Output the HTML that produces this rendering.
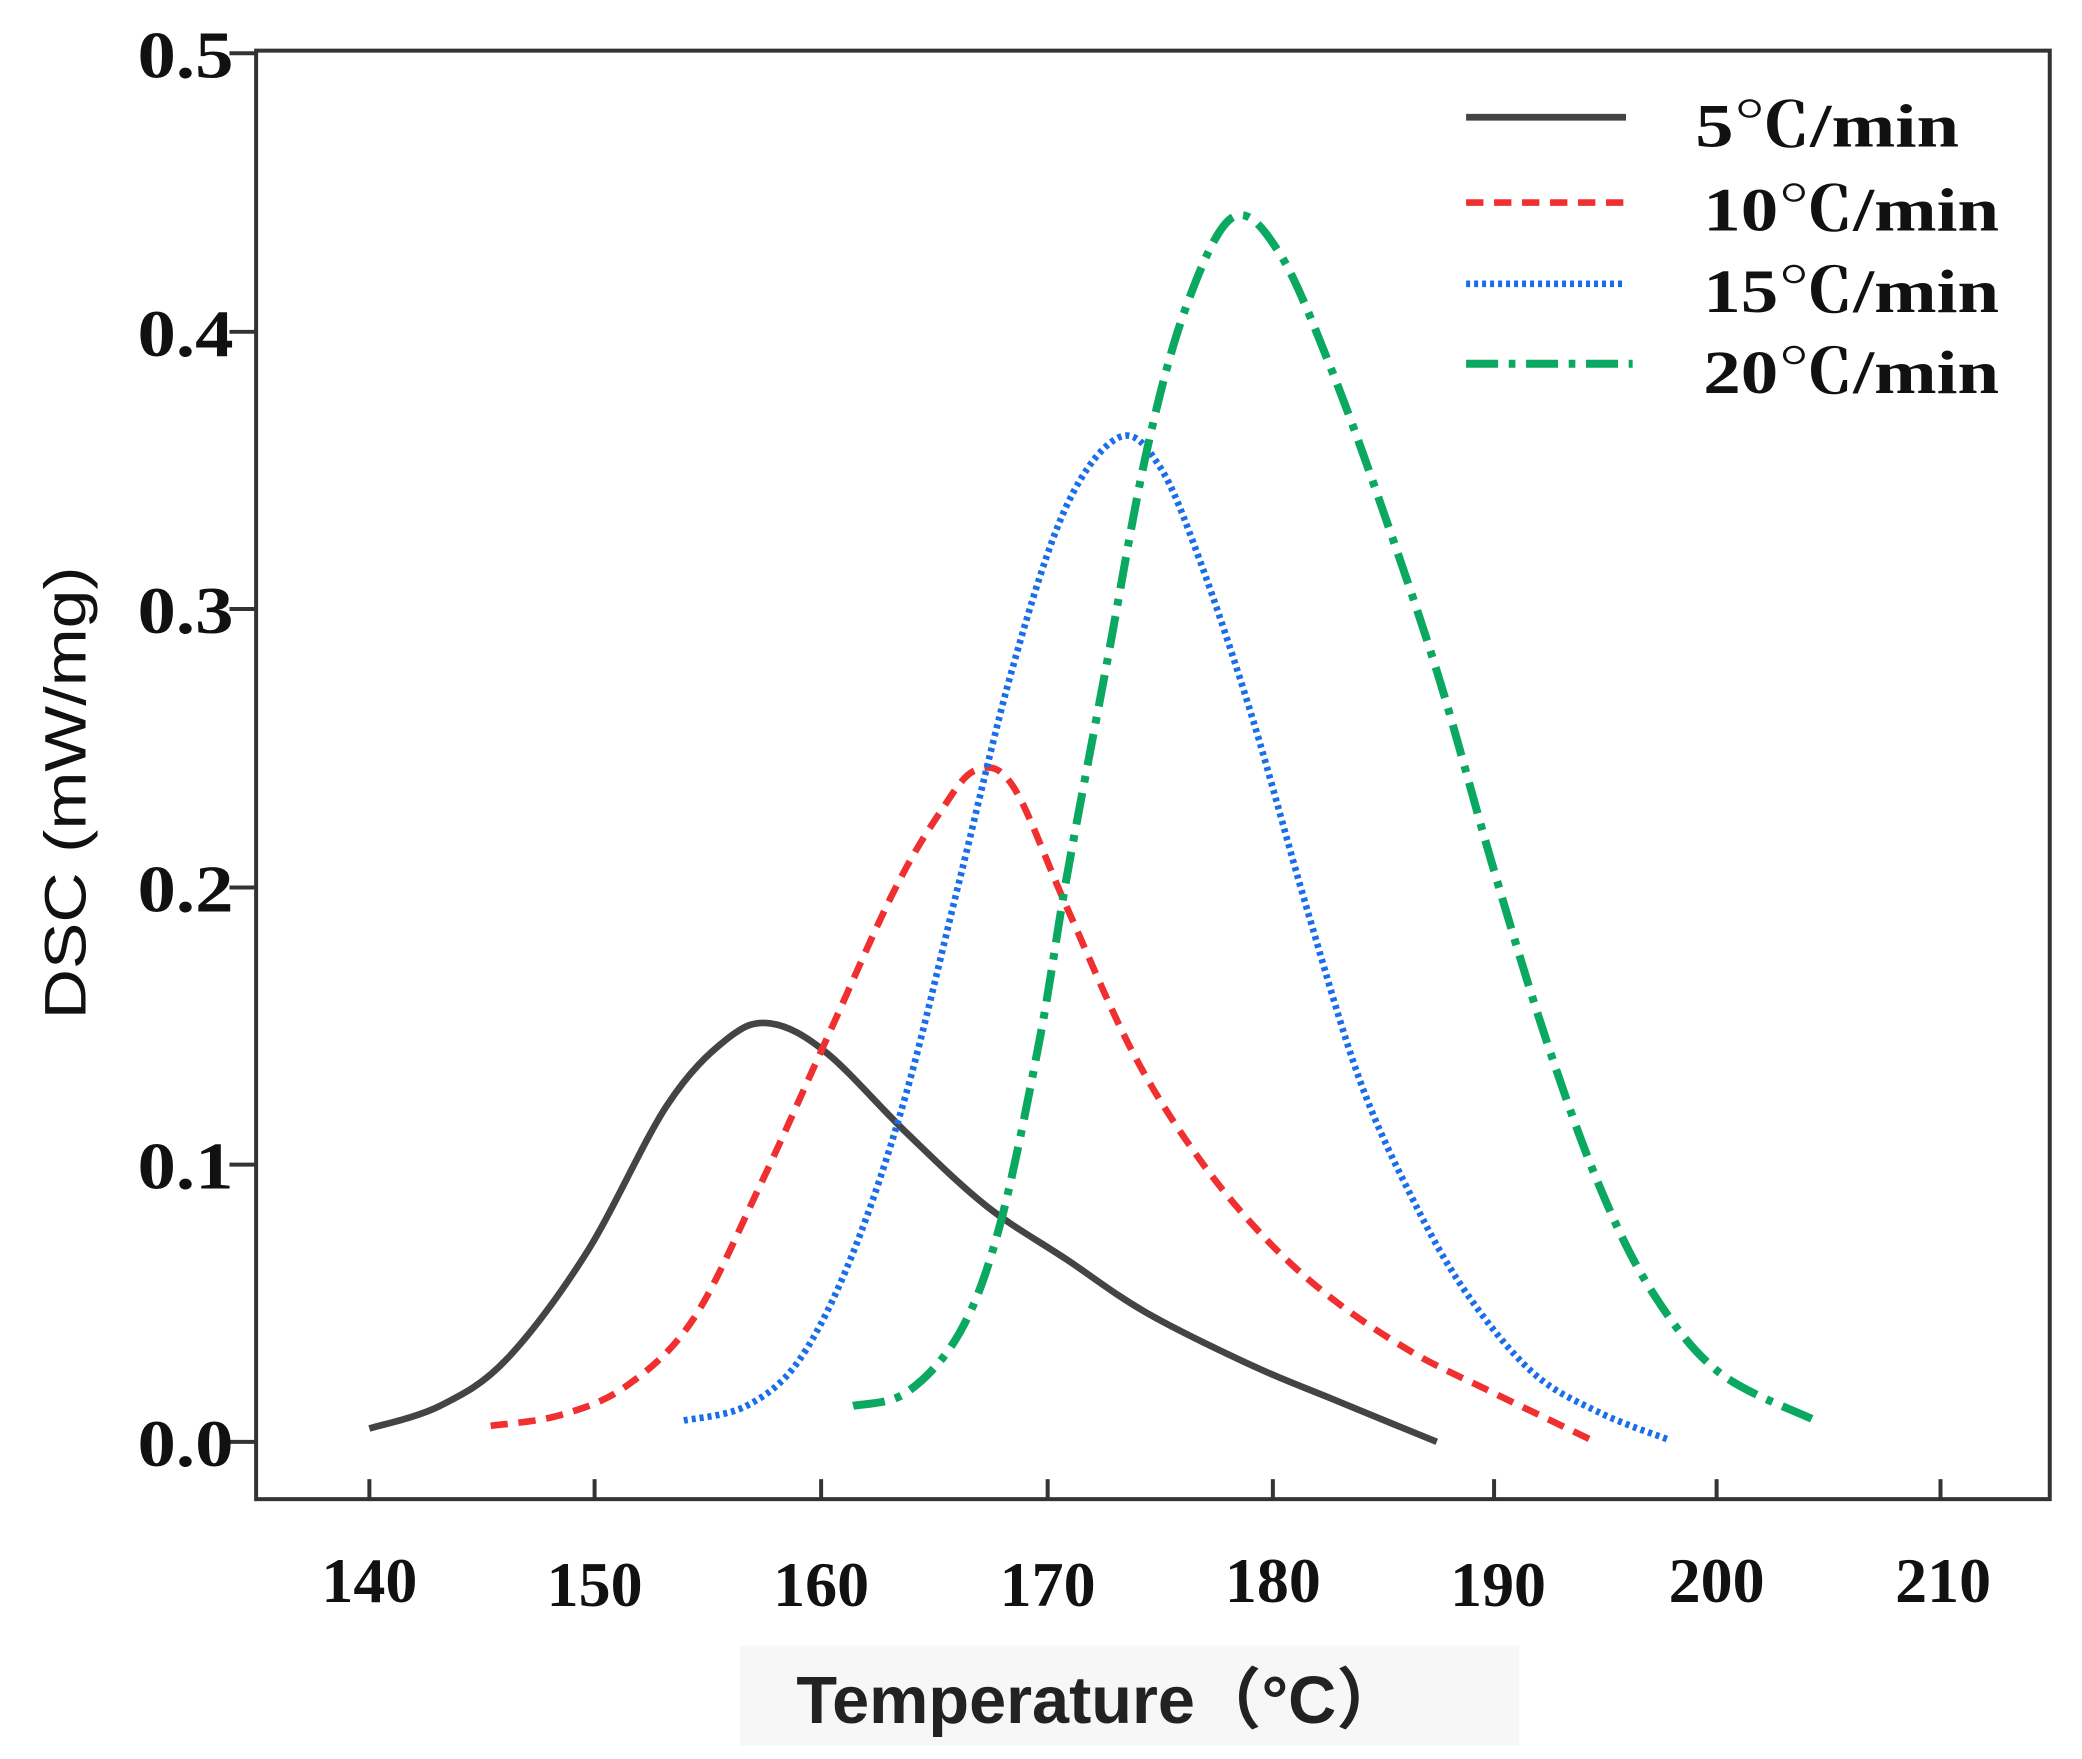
<!DOCTYPE html>
<html><head><meta charset="utf-8"><style>html,body{margin:0;padding:0;background:#fff}svg{display:block}</style></head><body>
<svg id="s" width="2082" height="1759" viewBox="0 0 1562 1320" xmlns="http://www.w3.org/2000/svg">
<rect width="1562" height="1320" fill="#fff"/>
<rect x="192" y="38" width="1346" height="1087" fill="none" stroke="#333" stroke-width="3"/>
<g stroke="#333" stroke-width="3">
<line x1="172" y1="40" x2="192" y2="40"/><line x1="172" y1="249" x2="192" y2="249"/><line x1="172" y1="457" x2="192" y2="457"/><line x1="172" y1="666" x2="192" y2="666"/><line x1="172" y1="874" x2="192" y2="874"/><line x1="172" y1="1082" x2="192" y2="1082"/>
<line x1="277" y1="1125" x2="277" y2="1110"/><line x1="446" y1="1125" x2="446" y2="1110"/><line x1="616" y1="1125" x2="616" y2="1110"/><line x1="786" y1="1125" x2="786" y2="1110"/><line x1="955" y1="1125" x2="955" y2="1110"/><line x1="1121" y1="1125" x2="1121" y2="1110"/><line x1="1288" y1="1125" x2="1288" y2="1110"/><line x1="1456" y1="1125" x2="1456" y2="1110"/>
</g>
<g font-family="Liberation Serif, serif" font-weight="bold" font-size="50" fill="#111" text-anchor="end">
<text x="175" y="58" textLength="72" lengthAdjust="spacingAndGlyphs">0.5</text><text x="175" y="267" textLength="72" lengthAdjust="spacingAndGlyphs">0.4</text><text x="175" y="475" textLength="72" lengthAdjust="spacingAndGlyphs">0.3</text><text x="175" y="684" textLength="72" lengthAdjust="spacingAndGlyphs">0.2</text><text x="175" y="892" textLength="72" lengthAdjust="spacingAndGlyphs">0.1</text><text x="175" y="1100" textLength="72" lengthAdjust="spacingAndGlyphs">0.0</text>
</g>
<g font-family="Liberation Serif, serif" font-weight="bold" font-size="48" fill="#111" text-anchor="middle">
<text x="277" y="1202">140</text><text x="446" y="1205">150</text><text x="616" y="1205">160</text><text x="786" y="1205">170</text><text x="955" y="1202">180</text><text x="1124" y="1205">190</text><text x="1288" y="1202">200</text><text x="1458" y="1202">210</text>
</g>
<text transform="translate(64,595) rotate(-90)" font-family="Liberation Sans, sans-serif" font-size="44" fill="#111" text-anchor="middle" textLength="340" lengthAdjust="spacingAndGlyphs">DSC (mW/mg)</text>
<rect x="555" y="1235" width="585" height="75" fill="#f7f7f7"/>
<text x="825" y="1293" font-family="Liberation Sans, 'Noto Sans CJK SC', sans-serif" font-weight="bold" font-size="50" fill="#222" text-anchor="middle">Temperature（°C）</text>
<g fill="none" stroke-width="5" stroke-linejoin="round">
<path id="p1" stroke="#444" data-p="277,1072 330,1055 380,1020 440,940 500,830 545,780 578,768 620,790 680,850 740,905 800,945 860,985 940,1025 1000,1050 1078,1082"/>
<path id="p2" stroke="#f03030" stroke-dasharray="13 8" data-p="368,1070 420,1062 470,1040 520,990 570,890 620,780 670,670 705,610 732,578 760,590 800,680 850,790 900,870 950,930 1000,975 1060,1015 1120,1045 1197,1082"/>
<path id="p3" stroke="#1a6ee8" stroke-dasharray="3 3" data-p="513,1066 560,1055 600,1020 640,940 680,820 720,660 760,500 800,380 840,328 870,350 900,420 940,540 980,680 1020,810 1060,900 1100,970 1150,1030 1200,1060 1251,1080"/>
<path id="p4" stroke="#0aa860" stroke-width="6" stroke-dasharray="24 8 5 8" data-p="640,1055 680,1045 720,1000 750,920 780,780 800,660 830,500 860,340 890,230 925,163 960,190 1000,280 1040,390 1080,510 1120,650 1160,780 1200,890 1240,970 1290,1030 1360,1065"/>
</g>
<g fill="none" stroke-width="5">
<line x1="1100" y1="88" x2="1220" y2="88" stroke="#444"/>
<line x1="1100" y1="152" x2="1220" y2="152" stroke="#f03030" stroke-dasharray="13 8"/>
<line x1="1100" y1="213" x2="1220" y2="213" stroke="#1a6ee8" stroke-dasharray="3 3"/>
<line x1="1100" y1="273" x2="1225" y2="273" stroke="#0aa860" stroke-width="6" stroke-dasharray="24 8 5 8"/>
</g>
<g font-family="Liberation Serif, 'Noto Serif CJK SC', serif" font-weight="bold" font-size="46" fill="#111">
<text x="1272" y="110" textLength="198" lengthAdjust="spacingAndGlyphs">5℃/min</text><text x="1278" y="173" textLength="222" lengthAdjust="spacingAndGlyphs">10℃/min</text><text x="1278" y="234" textLength="222" lengthAdjust="spacingAndGlyphs">15℃/min</text><text x="1278" y="295" textLength="222" lengthAdjust="spacingAndGlyphs">20℃/min</text>
</g>
</svg>
<script>
['p1','p2','p3','p4'].forEach(function(id){
var el=document.getElementById(id);
var p=el.getAttribute('data-p').split(' ').map(function(s){return s.split(',').map(Number);});
var d='M'+p[0][0]+','+p[0][1];
for(var i=0;i<p.length-1;i++){
var p0=p[i-1]||p[i],p1=p[i],p2=p[i+1],p3=p[i+2]||p[i+1];
var c1=[p1[0]+(p2[0]-p0[0])/6,p1[1]+(p2[1]-p0[1])/6];
var c2=[p2[0]-(p3[0]-p1[0])/6,p2[1]-(p3[1]-p1[1])/6];
d+=' C'+c1[0].toFixed(1)+','+c1[1].toFixed(1)+' '+c2[0].toFixed(1)+','+c2[1].toFixed(1)+' '+p2[0]+','+p2[1];
}
el.setAttribute('d',d);
});
</script>
</body></html>
